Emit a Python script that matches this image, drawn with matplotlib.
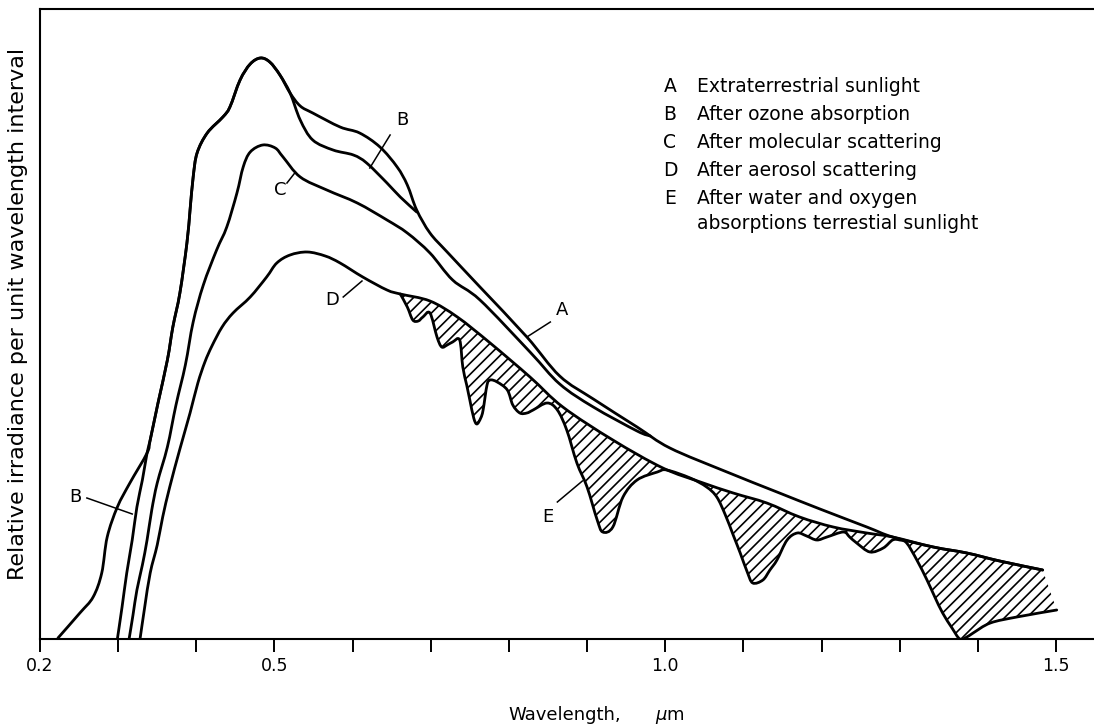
import matplotlib
matplotlib.use("Agg")
import matplotlib.pyplot as plt
from matplotlib.path import Path
from matplotlib.patches import PathPatch
import numpy as np

# ---------------- data (wavelength in micrometres, relative irradiance) ----------------
A_wl = [0.223, 0.251, 0.268, 0.279, 0.286, 0.299, 0.315, 0.337, 0.341, 0.351, 0.363, 0.370, 0.379,
        0.388, 0.392, 0.396, 0.401, 0.414, 0.434, 0.443, 0.456, 0.469, 0.482, 0.494, 0.507, 0.520,
        0.533, 0.549, 0.584, 0.609, 0.635, 0.657, 0.670, 0.682, 0.699, 0.721, 0.763, 0.823, 0.865,
        0.908, 0.964, 1.006, 1.079, 1.143, 1.198, 1.258, 1.291, 1.343, 1.386, 1.428, 1.483]
A_val = [1, 26, 42, 66, 102, 132, 156, 186, 199, 236, 279, 312, 346,
         396, 429, 462, 486, 506, 522, 532, 559, 575, 581, 577, 564, 546,
         533, 526, 512, 506, 492, 472, 454, 429, 406, 387, 352, 302, 263,
         240, 212, 191, 167, 147, 130, 112, 102, 92, 86, 78, 69]

B_wl = [0.299, 0.305, 0.311, 0.318, 0.324, 0.331, 0.337, 0.341, 0.351, 0.363, 0.370, 0.379, 0.388,
        0.392, 0.396, 0.401, 0.414, 0.434, 0.443, 0.456, 0.469, 0.482, 0.494, 0.507, 0.520, 0.533,
        0.549, 0.575, 0.601, 0.618, 0.644, 0.661, 0.682]
B_val = [0, 32, 66, 99, 132, 159, 186, 199, 236, 279, 312, 346, 396,
         429, 462, 486, 506, 522, 532, 559, 575, 581, 577, 564, 546, 519,
         499, 489, 484, 476, 456, 442, 427]

C_wl = [0.314, 0.319, 0.324, 0.331, 0.337, 0.343, 0.350, 0.363, 0.374, 0.386, 0.396, 0.409, 0.426,
        0.439, 0.452, 0.460, 0.469, 0.485, 0.501, 0.511, 0.533, 0.567, 0.606, 0.644, 0.670, 0.699,
        0.728, 0.763, 0.827, 0.865, 0.908, 0.964, 0.981]
C_val = [0, 24, 49, 74, 99, 129, 156, 192, 234, 274, 317, 354, 389,
         412, 446, 472, 487, 494, 491, 482, 462, 449, 436, 419, 406, 386,
         359, 339, 287, 255, 232, 208, 203]

D_wl = [0.328, 0.334, 0.341, 0.350, 0.357, 0.366, 0.379, 0.392, 0.402, 0.411, 0.420, 0.433, 0.447,
        0.469, 0.490, 0.503, 0.520, 0.542, 0.565, 0.584, 0.613, 0.644, 0.661, 0.699, 0.734, 0.776,
        0.827, 0.869, 0.933, 0.997, 1.045, 1.087, 1.130, 1.172, 1.215, 1.258, 1.291, 1.343, 1.386,
        1.428, 1.483]
D_val = [0, 32, 66, 94, 122, 152, 190, 226, 256, 277, 293, 312, 326,
         342, 362, 376, 384, 387, 383, 376, 362, 349, 345, 338, 322, 296,
         262, 232, 199, 171, 157, 146, 136, 122, 112, 106, 102, 92, 86,
         78, 69]

E_wl = [0.661, 0.670, 0.677, 0.684, 0.690, 0.699, 0.708, 0.714, 0.721, 0.728, 0.737, 0.741, 0.746,
        0.750, 0.755, 0.759, 0.764, 0.767, 0.772, 0.776, 0.785, 0.798, 0.805, 0.814, 0.823, 0.831,
        0.849, 0.862, 0.874, 0.887, 0.900, 0.913, 0.920, 0.933, 0.946, 0.964, 0.990, 1.002, 1.032,
        1.053, 1.066, 1.077, 1.087, 1.096, 1.105, 1.112, 1.125, 1.134, 1.143, 1.156, 1.169, 1.181,
        1.194, 1.207, 1.228, 1.236, 1.245, 1.262, 1.279, 1.291, 1.300, 1.309, 1.322, 1.335, 1.345,
        1.355, 1.367, 1.377, 1.386, 1.394, 1.416, 1.450, 1.501]
E_val = [345, 332, 319, 318, 322, 326, 302, 292, 294, 297, 299, 272, 254,
         239, 221, 215, 221, 229, 254, 259, 257, 249, 234, 226, 226, 229,
         236, 229, 209, 176, 152, 119, 107, 112, 142, 159, 167, 169, 161,
         152, 142, 124, 104, 86, 67, 56, 59, 69, 79, 99, 106, 103,
         99, 102, 107, 102, 96, 87, 91, 99, 99, 96, 79, 59, 42,
         26, 11, 0, 2, 6, 16, 22, 29]

tick_pos = [0.2, 0.3, 0.4, 0.5, 0.6, 0.7, 0.8, 0.9, 1.0, 1.1, 1.2, 1.3, 1.4, 1.5]
tick_labels = ["0.2", "", "", "0.5", "", "", "", "", "1.0", "", "", "", "", "1.5"]

legend_letters = ["A", "B", "C", "D", "E", ""]
legend_texts = ["Extraterrestrial sunlight", "After ozone absorption",
                "After molecular scattering", "After aerosol scattering",
                "After water and oxygen", "absorptions terrestial sunlight"]

# curve labels: (text, label position, leader start, leader end) in data coords
curve_labels = [
    ("A", (0.868, 329), (0.853, 317), (0.823, 302)),
    ("B", (0.664, 519), (0.648, 504), (0.622, 471)),
    ("C", (0.507, 449), (0.516, 456), (0.526, 466)),
    ("D", (0.574, 339), (0.588, 342), (0.612, 358)),
    ("E", (0.850, 122), (0.862, 137), (0.894, 158)),
    ("B", (0.245, 142), (0.260, 141), (0.318, 125)),
]

# ---------------- figure ----------------
W, H = 1094, 726
PX_PER_UM = 781.5
plt.rcParams["font.family"] = ["DejaVu Sans"]
plt.rcParams["hatch.linewidth"] = 1.2
fig = plt.figure(figsize=(W / 100, H / 100), dpi=100)
ax = fig.add_axes([40 / W, 1 - 639 / H, (W - 40) / W, 630 / H])
ax.set_xlim(0.2, 0.2 + 1054 / PX_PER_UM)
ax.set_ylim(0, 630)


def smooth_path_parts(xs, ys):
    """Catmull-Rom spline through the read points, as cubic Bezier segments."""
    P = np.column_stack([np.asarray(xs, float) * PX_PER_UM, np.asarray(ys, float)])
    n = len(P)
    verts = [P[0]]
    codes = [Path.MOVETO]
    for i in range(n - 1):
        p0 = P[i - 1] if i > 0 else P[i]
        p1 = P[i]
        p2 = P[i + 1]
        p3 = P[i + 2] if i + 2 < n else P[i + 1]
        c1 = p1 + (p2 - p0) / 6.0
        c2 = p2 - (p3 - p1) / 6.0
        verts += [c1, c2, p2]
        codes += [Path.CURVE4] * 3
    verts = np.array(verts)
    verts[:, 0] /= PX_PER_UM
    return verts, codes


lw = 2.0
for wl, val in [(A_wl, A_val), (B_wl, B_val), (C_wl, C_val), (D_wl, D_val), (E_wl, E_val)]:
    v, c = smooth_path_parts(wl, val)
    ax.add_patch(PathPatch(Path(v, c), facecolor="none", edgecolor="black", lw=lw,
                           capstyle="round", joinstyle="round"))

# hatched absorption region between D and E
D_wl_a = np.array(D_wl)
D_val_a = np.array(D_val)
mask = D_wl_a >= E_wl[0]
v1, c1 = smooth_path_parts(D_wl_a[mask], D_val_a[mask])
v2, c2 = smooth_path_parts(E_wl[::-1], E_val[::-1])
c2 = [Path.LINETO] + c2[1:]
verts = np.vstack([v1, v2, v1[:1]])
codes = c1 + c2 + [Path.CLOSEPOLY]
ax.add_patch(PathPatch(Path(verts, codes), facecolor="none", edgecolor="black",
                       lw=0, hatch="///"))

for txt, pos, p0, p1 in curve_labels:
    ax.text(pos[0], pos[1], txt, fontsize=13, ha="center", va="center")
    ax.plot([p0[0], p1[0]], [p0[1], p1[1]], color="black", lw=1.1)

# axes styling
ax.spines["right"].set_visible(False)
for s in ["top", "left", "bottom"]:
    ax.spines[s].set_linewidth(1.5)
ax.set_yticks([])
ax.set_xticks(tick_pos)
ax.set_xticklabels(tick_labels)
ax.tick_params(axis="x", direction="out", length=9, width=1.4, pad=4, labelsize=12.5)


def fx(px):
    return px / W


def fy(py):
    return 1 - py / H


fig.text(fx(508), fy(715), "Wavelength,", fontsize=13, ha="left", va="center")
fig.text(fx(655), fy(717), r"$\mu$m", fontsize=13, ha="left", va="center")
fig.text(fx(18), fy(314), "Relative irradiance per unit wavelength interval",
         fontsize=16, rotation=90, ha="center", va="center")

rows = [87, 115, 143, 171, 198, 223]
for letter, text, row in zip(legend_letters, legend_texts, rows):
    if letter:
        fig.text(fx(670), fy(row), letter, fontsize=13.5, ha="center", va="center")
    fig.text(fx(697), fy(row), text, fontsize=13.5, ha="left", va="center")

fig.savefig("out.png", dpi=100)
